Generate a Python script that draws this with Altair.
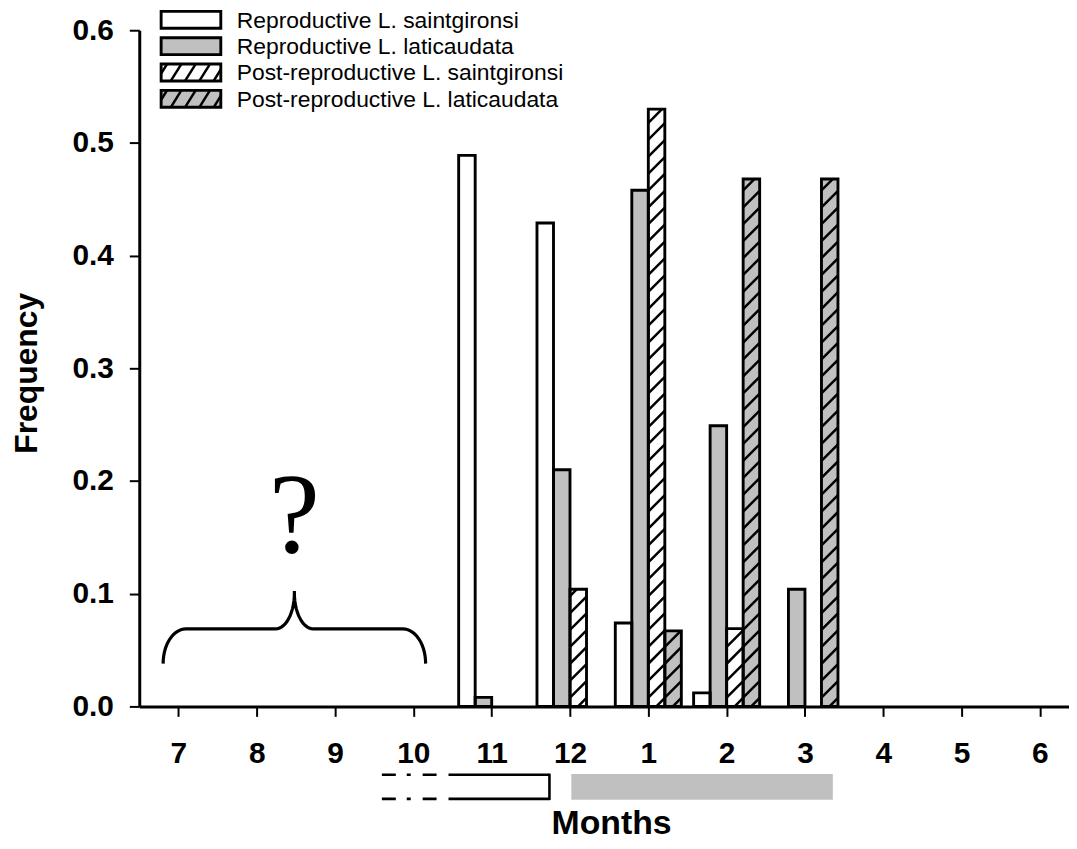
import json
import math
import altair as alt
import pandas as pd

# ---------------- data ----------------
months = ["7", "8", "9", "10", "11", "12", "1", "2", "3", "4", "5", "6"]
series = [
    "Reproductive L. saintgironsi",
    "Reproductive L. laticaudata",
    "Post-reproductive L. saintgironsi",
    "Post-reproductive L. laticaudata",
]
rep_saint = [0, 0, 0, 0, 0.489, 0.429, 0.074, 0.012, 0, 0, 0, 0]
rep_lati = [0, 0, 0, 0, 0.008, 0.210, 0.458, 0.249, 0.104, 0, 0, 0]
post_saint = [0, 0, 0, 0, 0, 0.104, 0.530, 0.069, 0, 0, 0, 0]
post_lati = [0, 0, 0, 0, 0, 0, 0.067, 0.468, 0.468, 0, 0, 0]
y_ticks = [0.0, 0.1, 0.2, 0.3, 0.4, 0.5, 0.6]

values_by_series = [rep_saint, rep_lati, post_saint, post_lati]

# ---------------- style / layout ----------------
fills = ["#ffffff", "#c0c0c0", "#ffffff", "#c0c0c0"]
hatched = [False, False, True, True]
FONT = "Liberation Sans, Arial, sans-serif"
SERIF = "Liberation Serif, Times New Roman, serif"

PX_LEFT, PX_TOP = 140, 28
W, H = 935, 680
STEP = 78.76
X0 = -0.5
X1 = X0 + W / STEP
YMAX = 0.6
SLOT = 0.2108
EDGE = 2.9


def px2x(px):
    return X0 + (px - PX_LEFT) / STEP


def py2y(py):
    return (PX_TOP + H - py) / H * YMAX


def x2px(x):
    return PX_LEFT + (x - X0) * STEP


def y2py(y):
    return PX_TOP + H - y / YMAX * H


def hatch(px0, px1, ptop, pbot, k, sp):
    segs = []
    w = px1 - px0
    c = pbot + k * w - sp * 0.5
    while c > ptop:
        xa = max(px0, px0 + (c - pbot) / k)
        xb = min(px1, px0 + (c - ptop) / k)
        if xb - xa > 0.8:
            segs.append(dict(x=px2x(xa), y=py2y(c - k * (xa - px0)),
                             x2=px2x(xb), y2=py2y(c - k * (xb - px0))))
        c -= sp
    return segs


# bars
bar_rows = []
hatch_rows = []
for si, vals in enumerate(values_by_series):
    for mi, v in enumerate(vals):
        if v <= 0:
            continue
        x0 = mi - 2 * SLOT + si * SLOT
        x1 = x0 + SLOT
        bar_rows.append(dict(x=x0, x2=x1, y=0.0, y2=v, fill=fills[si], series=series[si]))
        if hatched[si]:
            hatch_rows += hatch(x2px(x0), x2px(x1), y2py(v), y2py(0), 1.0, 17.0)

# legend
leg_rows, leg_text = [], []
LEG_CENTERS = [17.5, 44.0, 70.5, 97.0]
for si, name in enumerate(series):
    cy = LEG_CENTERS[si]
    leg_rows.append(dict(x=px2x(162), x2=px2x(222), y=py2y(cy - 8.5), y2=py2y(cy + 8.5), fill=fills[si]))
    leg_text.append(dict(x=px2x(238), y=py2y(cy + 1), text=name))
    if hatched[si]:
        hatch_rows += hatch(162, 222, cy - 8.5, cy + 8.5, 1.6, 23.0)
bars_df = pd.DataFrame(bar_rows)
hatch_df = pd.DataFrame(hatch_rows)
leg_df = pd.DataFrame(leg_rows)
leg_text_df = pd.DataFrame(leg_text)

# brace (annotation shape, pixel layout converted to data units)
brace_pts = []
n = 14
for j in range(n + 1):
    t = math.radians(180 + 90 * j / n)
    brace_pts.append((187 + 23 * math.cos(t), 665 + 35 * math.sin(t)))
for j in range(n + 1):
    t = math.radians(90 - 90 * j / n)
    brace_pts.append((277 + 19 * math.cos(t), 594 + 36 * math.sin(t)))
brace_pts.append((296, 592))
right = [(592 - px, py) for (px, py) in reversed(brace_pts)]
brace_all = brace_pts + right
brace_df = pd.DataFrame([dict(x=px2x(px), y=py2y(py), i=k) for k, (px, py) in enumerate(brace_all)])

qmark_df = pd.DataFrame([dict(x=px2x(296), y=py2y(553), text="?")])

# season bars under the axis
grey_df = pd.DataFrame([dict(x=px2x(574.5), x2=px2x(837.5), y=py2y(776), y2=py2y(802))])
solid_df = pd.DataFrame([
    dict(x=px2x(451), x2=px2x(552.5), y=py2y(776.8), y2=py2y(776.8)),
    dict(x=px2x(451), x2=px2x(552.5), y=py2y(801), y2=py2y(801)),
    dict(x=px2x(552.5), x2=px2x(552.5), y=py2y(775.6), y2=py2y(802.2)),
])
dash_df = pd.DataFrame([
    dict(x=px2x(384), x2=px2x(441), y=py2y(776.8), y2=py2y(776.8)),
    dict(x=px2x(384), x2=px2x(441), y=py2y(801), y2=py2y(801)),
])

# ---------------- scales / axes ----------------
xscale = alt.Scale(domain=[X0, X1], nice=False, zero=False)
yscale = alt.Scale(domain=[0, YMAX], nice=False, zero=False)
label_expr = json.dumps(months) + "[datum.value]"

xaxis = alt.Axis(
    values=list(range(12)), labelExpr=label_expr, title="Months",
    titleFont=FONT, titleFontSize=34, titleFontWeight="bold", titleColor="black",
    titleX=614.5 - PX_LEFT, titleY=836 - (PX_TOP + H), titleBaseline="alphabetic", titleAlign="center",
    labelFont=FONT, labelFontSize=30, labelFontWeight="bold", labelColor="black",
    labelBaseline="alphabetic", labelPadding=46, labelFlush=False, labelOverlap=False,
    tickSize=10, tickWidth=2, tickColor="black",
    domainColor="black", domainWidth=3, grid=False,
)
yaxis = alt.Axis(
    values=y_ticks, format=".1f", title="Frequency",
    titleFont=FONT, titleFontSize=32, titleFontWeight="bold", titleColor="black",
    titleX=37 - PX_LEFT, titleY=372.5 - PX_TOP, titleBaseline="alphabetic", titleAlign="center",
    labelFont=FONT, labelFontSize=30, labelFontWeight="bold", labelColor="black",
    labelPadding=16, labelFlush=False, labelOverlap=False,
    tickSize=10, tickWidth=2, tickColor="black",
    domainColor="black", domainWidth=3, grid=False,
)


def X():
    return alt.X("x:Q", scale=xscale, axis=xaxis)


def Y():
    return alt.Y("y:Q", scale=yscale, axis=yaxis)


bars = alt.Chart(bars_df).mark_rect(strokeWidth=0).encode(
    x=X(), x2="x2:Q", y=Y(), y2="y2:Q", fill=alt.Fill("fill:N", scale=None)
)
legend_boxes = alt.Chart(leg_df).mark_rect(strokeWidth=0).encode(
    x=X(), x2="x2:Q", y=Y(), y2="y2:Q", fill=alt.Fill("fill:N", scale=None)
)
hatch_layer = alt.Chart(hatch_df).mark_rule(color="black", strokeWidth=2.5).encode(
    x=X(), x2="x2:Q", y=Y(), y2="y2:Q"
)
bars_outline = alt.Chart(bars_df).mark_rect(stroke="black", strokeWidth=EDGE, fillOpacity=0).encode(
    x=X(), x2="x2:Q", y=Y(), y2="y2:Q"
)
legend_outline = alt.Chart(leg_df).mark_rect(stroke="black", strokeWidth=EDGE, fillOpacity=0).encode(
    x=X(), x2="x2:Q", y=Y(), y2="y2:Q"
)
legend_labels = alt.Chart(leg_text_df).mark_text(
    align="left", baseline="middle", font=FONT, fontSize=23, color="black"
).encode(x=X(), y=Y(), text="text:N")
brace = alt.Chart(brace_df).mark_line(color="black", strokeWidth=3.2).encode(
    x=X(), y=Y(), order="i:Q"
)
qmark = alt.Chart(qmark_df).mark_text(
    align="center", baseline="alphabetic", font=SERIF, fontSize=115, color="black"
).encode(x=X(), y=Y(), text="text:N")
grey_bar = alt.Chart(grey_df).mark_rect(color="#c0c0c0").encode(
    x=X(), x2="x2:Q", y=Y(), y2="y2:Q"
)
solid_lines = alt.Chart(solid_df).mark_rule(color="black", strokeWidth=2.6).encode(
    x=X(), x2="x2:Q", y=Y(), y2="y2:Q"
)
dash_lines = alt.Chart(dash_df).mark_rule(color="black", strokeWidth=2.6, strokeDash=[14, 11, 4, 12]).encode(
    x=X(), x2="x2:Q", y=Y(), y2="y2:Q"
)

chart = alt.layer(
    bars, legend_boxes, hatch_layer, bars_outline, legend_outline, legend_labels,
    brace, qmark, grey_bar, solid_lines, dash_lines,
).properties(
    width=W, height=H, background="white",
    padding={"left": PX_LEFT - 8, "top": PX_TOP - 8, "right": 0, "bottom": 132},
    autosize=alt.AutoSizeParams(type="none"),
).configure_view(stroke=None)

chart.save("out.html", embed_options={"renderer": "svg", "actions": False})
